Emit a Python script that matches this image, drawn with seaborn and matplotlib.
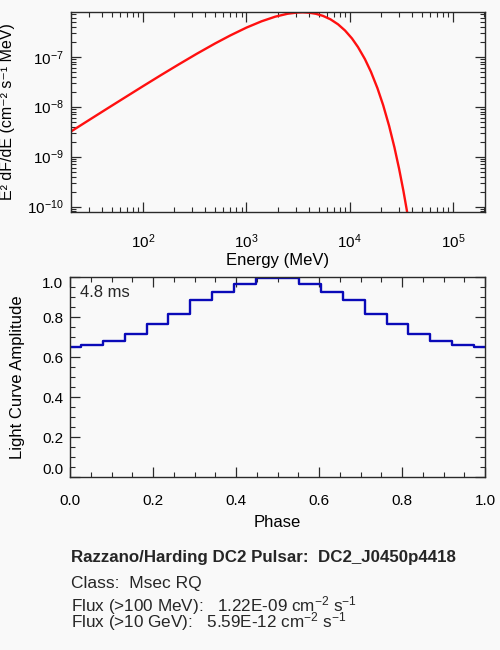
import matplotlib
matplotlib.use("Agg")
import matplotlib.pyplot as plt
import matplotlib.ticker as mticker
import numpy as np
import pandas as pd
import seaborn as sns

# spectrum (MeV, E^2 dF/dE)
energy = [20, 30, 45, 70, 100, 150, 220, 330, 500, 700, 1000, 1400, 1900, 2500,
          3100, 3500, 4000, 4700, 5500, 6500, 7700, 9000, 10500, 12000, 14000,
          16000, 18500, 21000, 24000, 27000, 30000, 33000, 36000]
e2dfde = [3.16e-9, 5.38e-9, 9.14e-9, 1.62e-8, 2.57e-8, 4.31e-8, 6.95e-8, 1.14e-7,
          1.85e-7, 2.67e-7, 3.82e-7, 5.11e-7, 6.33e-7, 7.24e-7, 7.66e-7, 7.73e-7,
          7.62e-7, 7.23e-7, 6.57e-7, 5.61e-7, 4.45e-7, 3.34e-7, 2.32e-7, 1.56e-7,
          8.97e-8, 5.01e-8, 2.35e-8, 1.08e-8, 4.12e-9, 1.54e-9, 5.67e-10, 2.06e-10,
          7.41e-11]

# light curve (lower panel)
phase = [0.0, 0.053, 0.105, 0.158, 0.211, 0.263, 0.316, 0.368, 0.421, 0.474,
         0.526, 0.579, 0.632, 0.684, 0.737, 0.789, 0.842, 0.895, 0.947, 1.0]
amplitude = [0.650, 0.660, 0.683, 0.715, 0.768, 0.815, 0.888, 0.927, 0.968, 0.995,
             0.995, 0.968, 0.927, 0.888, 0.815, 0.768, 0.715, 0.683, 0.660, 0.650]

title_txt = "Razzano/Harding DC2 Pulsar:  DC2_J0450p4418"
class_txt = "Class:  Msec RQ"
flux1_txt = r"Flux (>100 MeV):   1.22E-09 cm$^{-2}$ s$^{-1}$"
flux2_txt = r"Flux (>10 GeV):   5.59E-12 cm$^{-2}$ s$^{-1}$"
period_txt = "4.8 ms"

bg = "#f9f9f9"
ink = "#2a2a2a"

sns.set_theme(style="ticks")
plt.rcParams['font.family'] = ['Liberation Sans', 'DejaVu Sans']
plt.rcParams['mathtext.fontset'] = 'custom'
plt.rcParams['mathtext.rm'] = 'Liberation Sans'
plt.rcParams['mathtext.it'] = 'Liberation Sans:italic'
plt.rcParams['mathtext.bf'] = 'Liberation Sans:bold'
plt.rcParams['font.size'] = 11
plt.rcParams['axes.edgecolor'] = ink
plt.rcParams['axes.linewidth'] = 1.0

fig = plt.figure(figsize=(5, 6.5), dpi=100, facecolor=bg)
ax1 = fig.add_axes([0.1414, 0.6743, 0.8286, 0.3068], facecolor=bg)
ax2 = fig.add_axes([0.1400, 0.2657, 0.8300, 0.3077], facecolor=bg)

spec = pd.DataFrame({"energy": energy, "flux": e2dfde})
sns.lineplot(data=spec, x="energy", y="flux", ax=ax1, color="#ff1010", linewidth=1.7)
ax1.set_xscale("log")
ax1.set_yscale("log")
ax1.set_xlim(20, 2.03e5)
ax1.set_ylim(7.9e-11, 7.75e-7)
ax1.xaxis.set_major_locator(mticker.LogLocator(base=10, numticks=10))
ax1.yaxis.set_major_locator(mticker.LogLocator(base=10, numticks=10))
ax1.xaxis.set_minor_locator(mticker.LogLocator(base=10, subs=np.arange(2, 10), numticks=20))
ax1.yaxis.set_minor_locator(mticker.LogLocator(base=10, subs=np.arange(2, 10), numticks=20))
ax1.xaxis.set_minor_formatter(mticker.NullFormatter())
ax1.yaxis.set_minor_formatter(mticker.NullFormatter())
ax1.set_xlabel("Energy (MeV)", fontsize=12, color="black")
ax1.set_ylabel("E² dF/dE (cm⁻² s⁻¹ MeV)", fontsize=11.5, color="black")
ax1.xaxis.set_label_coords(0.5, -0.205)
ax1.yaxis.set_label_coords(-0.134, 0.5)
ax1.tick_params(axis="x", which="major", pad=15)
ax1.tick_params(axis="y", which="major", pad=5)

lc = pd.DataFrame({"phase": phase, "amp": amplitude})
sns.lineplot(data=lc, x="phase", y="amp", ax=ax2, color="#0a0ab8", linewidth=1.7,
             drawstyle="steps-mid")
ax2.set_xlim(0, 1)
ax2.set_ylim(0, 1)
ax2.xaxis.set_major_locator(mticker.MultipleLocator(0.2))
ax2.xaxis.set_minor_locator(mticker.MultipleLocator(0.05))
ax2.yaxis.set_major_locator(mticker.MultipleLocator(0.2))
ax2.yaxis.set_minor_locator(mticker.MultipleLocator(0.05))
ax2.xaxis.set_major_formatter(mticker.FormatStrFormatter("%.1f"))
ax2.yaxis.set_major_formatter(mticker.FormatStrFormatter("%.1f"))
ax2.set_xlabel("Phase", fontsize=12, color="black")
ax2.set_ylabel("Light Curve Amplitude", fontsize=12, color="black")
ax2.xaxis.set_label_coords(0.5, -0.19)
ax2.yaxis.set_label_coords(-0.108, 0.5)
ax2.tick_params(axis="x", which="major", pad=12)
ax2.tick_params(axis="y", which="major", pad=5)
ax2.text(0.024, 0.90, period_txt, fontsize=12, va="baseline", ha="left")

for ax in (ax1, ax2):
    ax.tick_params(which="both", direction="in", top=True, right=True,
                   color=ink, labelsize=11, labelcolor="black")
    ax.tick_params(which="major", length=7, width=0.9)
    ax.tick_params(which="minor", length=3.5, width=0.8)
    for s in ax.spines.values():
        s.set_visible(True)
        s.set_color(ink)

fig.canvas.draw()
for lab in ax2.get_yticklabels():
    if lab.get_text() == "1.0":
        lab.set_va("top")
    elif lab.get_text() == "0.0":
        lab.set_va("bottom")

fig.text(0.142, 0.1349, title_txt, fontsize=12.2, fontweight="bold", va="baseline")
fig.text(0.142, 0.0949, class_txt, fontsize=12.5, va="baseline")
fig.text(0.142, 0.0589, flux1_txt, fontsize=12.3, va="baseline")
fig.text(0.142, 0.0349, flux2_txt, fontsize=12.3, va="baseline")

fig.savefig("out.png", dpi=100, facecolor=bg)
